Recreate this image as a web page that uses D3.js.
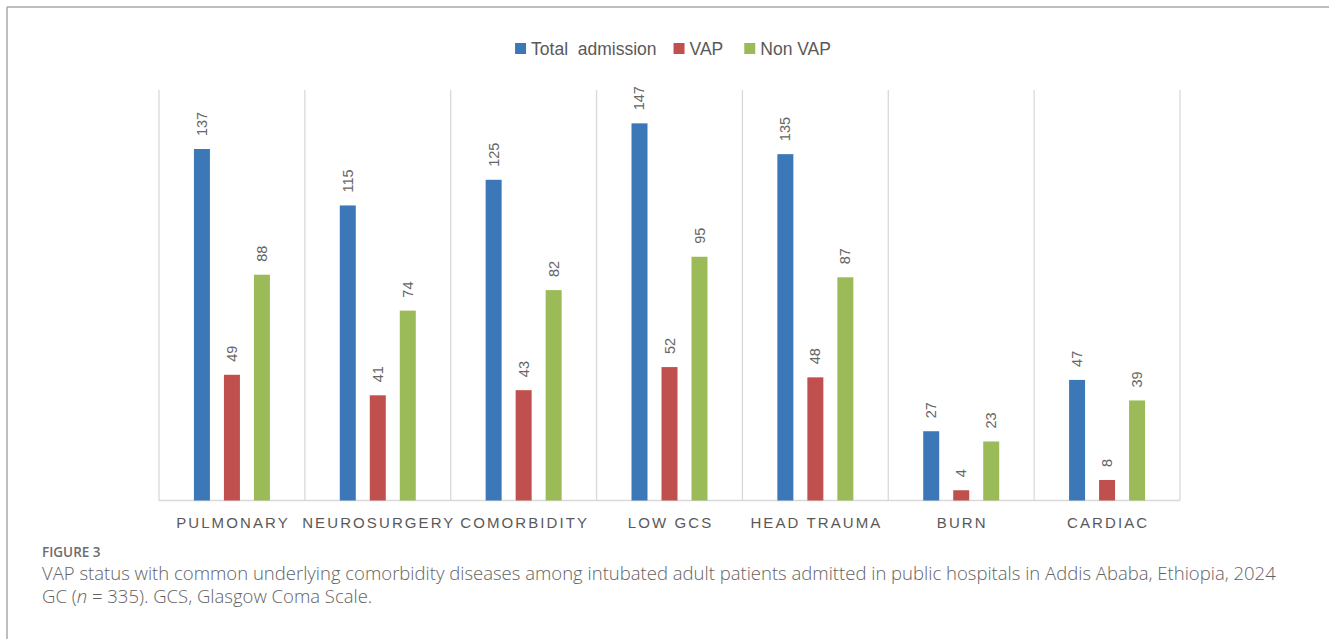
<!DOCTYPE html>
<html>
<head>
<meta charset="utf-8">
<script src="https://cdn.jsdelivr.net/npm/d3@7"></script>
<style>
  html, body { margin: 0; padding: 0; background: #fff; }
  svg { display: block; }
</style>
</head>
<body>
<svg id="chart" width="1329" height="639"></svg>
<script>
const categories = ["PULMONARY", "NEUROSURGERY", "COMORBIDITY", "LOW GCS", "HEAD TRAUMA", "BURN", "CARDIAC"];
const seriesNames = ["Total  admission", "VAP", "Non VAP"];
const totalAdmission = [137, 115, 125, 147, 135, 27, 47];
const vap = [49, 41, 43, 52, 48, 4, 8];
const nonVap = [88, 74, 82, 95, 87, 23, 39];
const seriesColors = ["#3C78B8", "#C0504D", "#9BBB59"];
const yDomain = [0, 160];
const figureLabel = "FIGURE 3";
const captionLines = [
  "VAP status with common underlying comorbidity diseases among intubated adult patients admitted in public hospitals in Addis Ababa, Ethiopia, 2024",
  ["GC (", {i: "n"}, " = 335). GCS, Glasgow Coma Scale."]
];

const seriesValues = [totalAdmission, vap, nonVap];
const svg = d3.select("#chart");
const FONT = "'Liberation Sans', Arial, sans-serif";
const TEXT = "#595959";
const GRID = "#d9d9d9";

// frame
svg.append("line").attr("x1", 7).attr("x2", 1329).attr("y1", 7).attr("y2", 7)
  .attr("stroke", "#a8a8a8").attr("stroke-width", 1.5);
svg.append("line").attr("x1", 7).attr("x2", 7).attr("y1", 7).attr("y2", 639)
  .attr("stroke", "#a8a8a8").attr("stroke-width", 1.5);

const plot = {left: 159, right: 1180, top: 90, bottom: 500.5};

const x0 = d3.scaleBand().domain(categories).range([plot.left, plot.right]).paddingInner(0).paddingOuter(0);
const bw = x0.bandwidth();
const x1 = d3.scaleBand().domain(d3.range(seriesNames.length))
  .range([bw / 2 - 38, bw / 2 + 38]).paddingInner(0.4667).paddingOuter(0);
const y = d3.scaleLinear().domain(yDomain).range([plot.bottom, plot.top]);

// vertical gridlines at category boundaries
const bounds = categories.map(c => x0(c)).concat([plot.right]);
svg.append("g").selectAll("line").data(bounds).join("line")
  .attr("x1", d => d).attr("x2", d => d)
  .attr("y1", y(yDomain[1])).attr("y2", y(0))
  .attr("stroke", GRID).attr("stroke-width", 1.3);

// baseline
svg.append("line").attr("x1", plot.left).attr("x2", plot.right)
  .attr("y1", y(0)).attr("y2", y(0)).attr("stroke", GRID).attr("stroke-width", 1.3);

// bars
const groups = svg.append("g").selectAll("g").data(categories).join("g")
  .attr("transform", c => `translate(${x0(c)},0)`);

groups.each(function(c, ci) {
  const g = d3.select(this);
  const data = seriesValues.map((vals, si) => ({si, v: vals[ci]}));
  g.selectAll("rect").data(data).join("rect")
    .attr("x", d => x1(d.si))
    .attr("width", x1.bandwidth())
    .attr("y", d => y(d.v))
    .attr("height", d => y(0) - y(d.v))
    .attr("fill", d => seriesColors[d.si]);
  g.selectAll("text").data(data).join("text")
    .attr("transform", d => `translate(${x1(d.si) + x1.bandwidth() / 2},${y(d.v) - 13}) rotate(-90)`)
    .attr("text-anchor", "start")
    .attr("dominant-baseline", "central")
    .attr("font-family", FONT)
    .attr("font-size", "14.5px")
    .attr("fill", "#666")
    .text(d => d.v);
});

// category labels
const LS = 2.1;
svg.append("g").selectAll("text").data(categories).join("text")
  .attr("x", c => x0(c) + bw / 2 + LS / 2)
  .attr("y", 528)
  .attr("text-anchor", "middle")
  .attr("font-family", FONT)
  .attr("font-size", "15px")
  .attr("letter-spacing", LS + "px")
  .attr("fill", TEXT)
  .text(c => c);

// legend
const legend = svg.append("g");
let lx = 0;
const gaps = [17, 21];
seriesNames.forEach((name, i) => {
  const item = legend.append("g").attr("transform", `translate(${lx},0)`);
  item.append("rect").attr("x", 0).attr("y", 43).attr("width", 11).attr("height", 11)
    .attr("fill", seriesColors[i]);
  const t = item.append("text").attr("x", 16).attr("y", 54.5)
    .attr("font-family", FONT).attr("font-size", "17.5px").attr("fill", TEXT)
    .style("white-space", "pre").text(name);
  lx += 16 + t.node().getComputedTextLength() + (gaps[i] || 0);
});
legend.attr("transform", `translate(${673 - lx / 2},0)`);

// caption
const CAP_FONT = "'Open Sans', 'Noto Sans', sans-serif";
svg.append("text").attr("x", 42).attr("y", 557)
  .attr("font-family", CAP_FONT).attr("font-size", "13.5px").attr("font-weight", 600)
  .attr("fill", "#6d6d6d").text(figureLabel);

const l1 = svg.append("text").attr("x", 42).attr("y", 580)
  .attr("font-family", CAP_FONT).attr("font-size", "16px").attr("font-weight", 300)
  .attr("fill", "#636363").text(captionLines[0]);
const w1 = l1.node().getComputedTextLength();
const capSize = 16 * (1235 / w1);
l1.attr("font-size", capSize + "px");

const l2 = svg.append("text").attr("x", 42).attr("y", 603)
  .attr("font-family", CAP_FONT).attr("font-size", capSize + "px").attr("font-weight", 300)
  .attr("fill", "#636363").style("white-space", "pre");
captionLines[1].forEach(part => {
  if (typeof part === "string") l2.append("tspan").text(part);
  else l2.append("tspan").attr("font-style", "italic").text(part.i);
});
</script>
</body>
</html>
